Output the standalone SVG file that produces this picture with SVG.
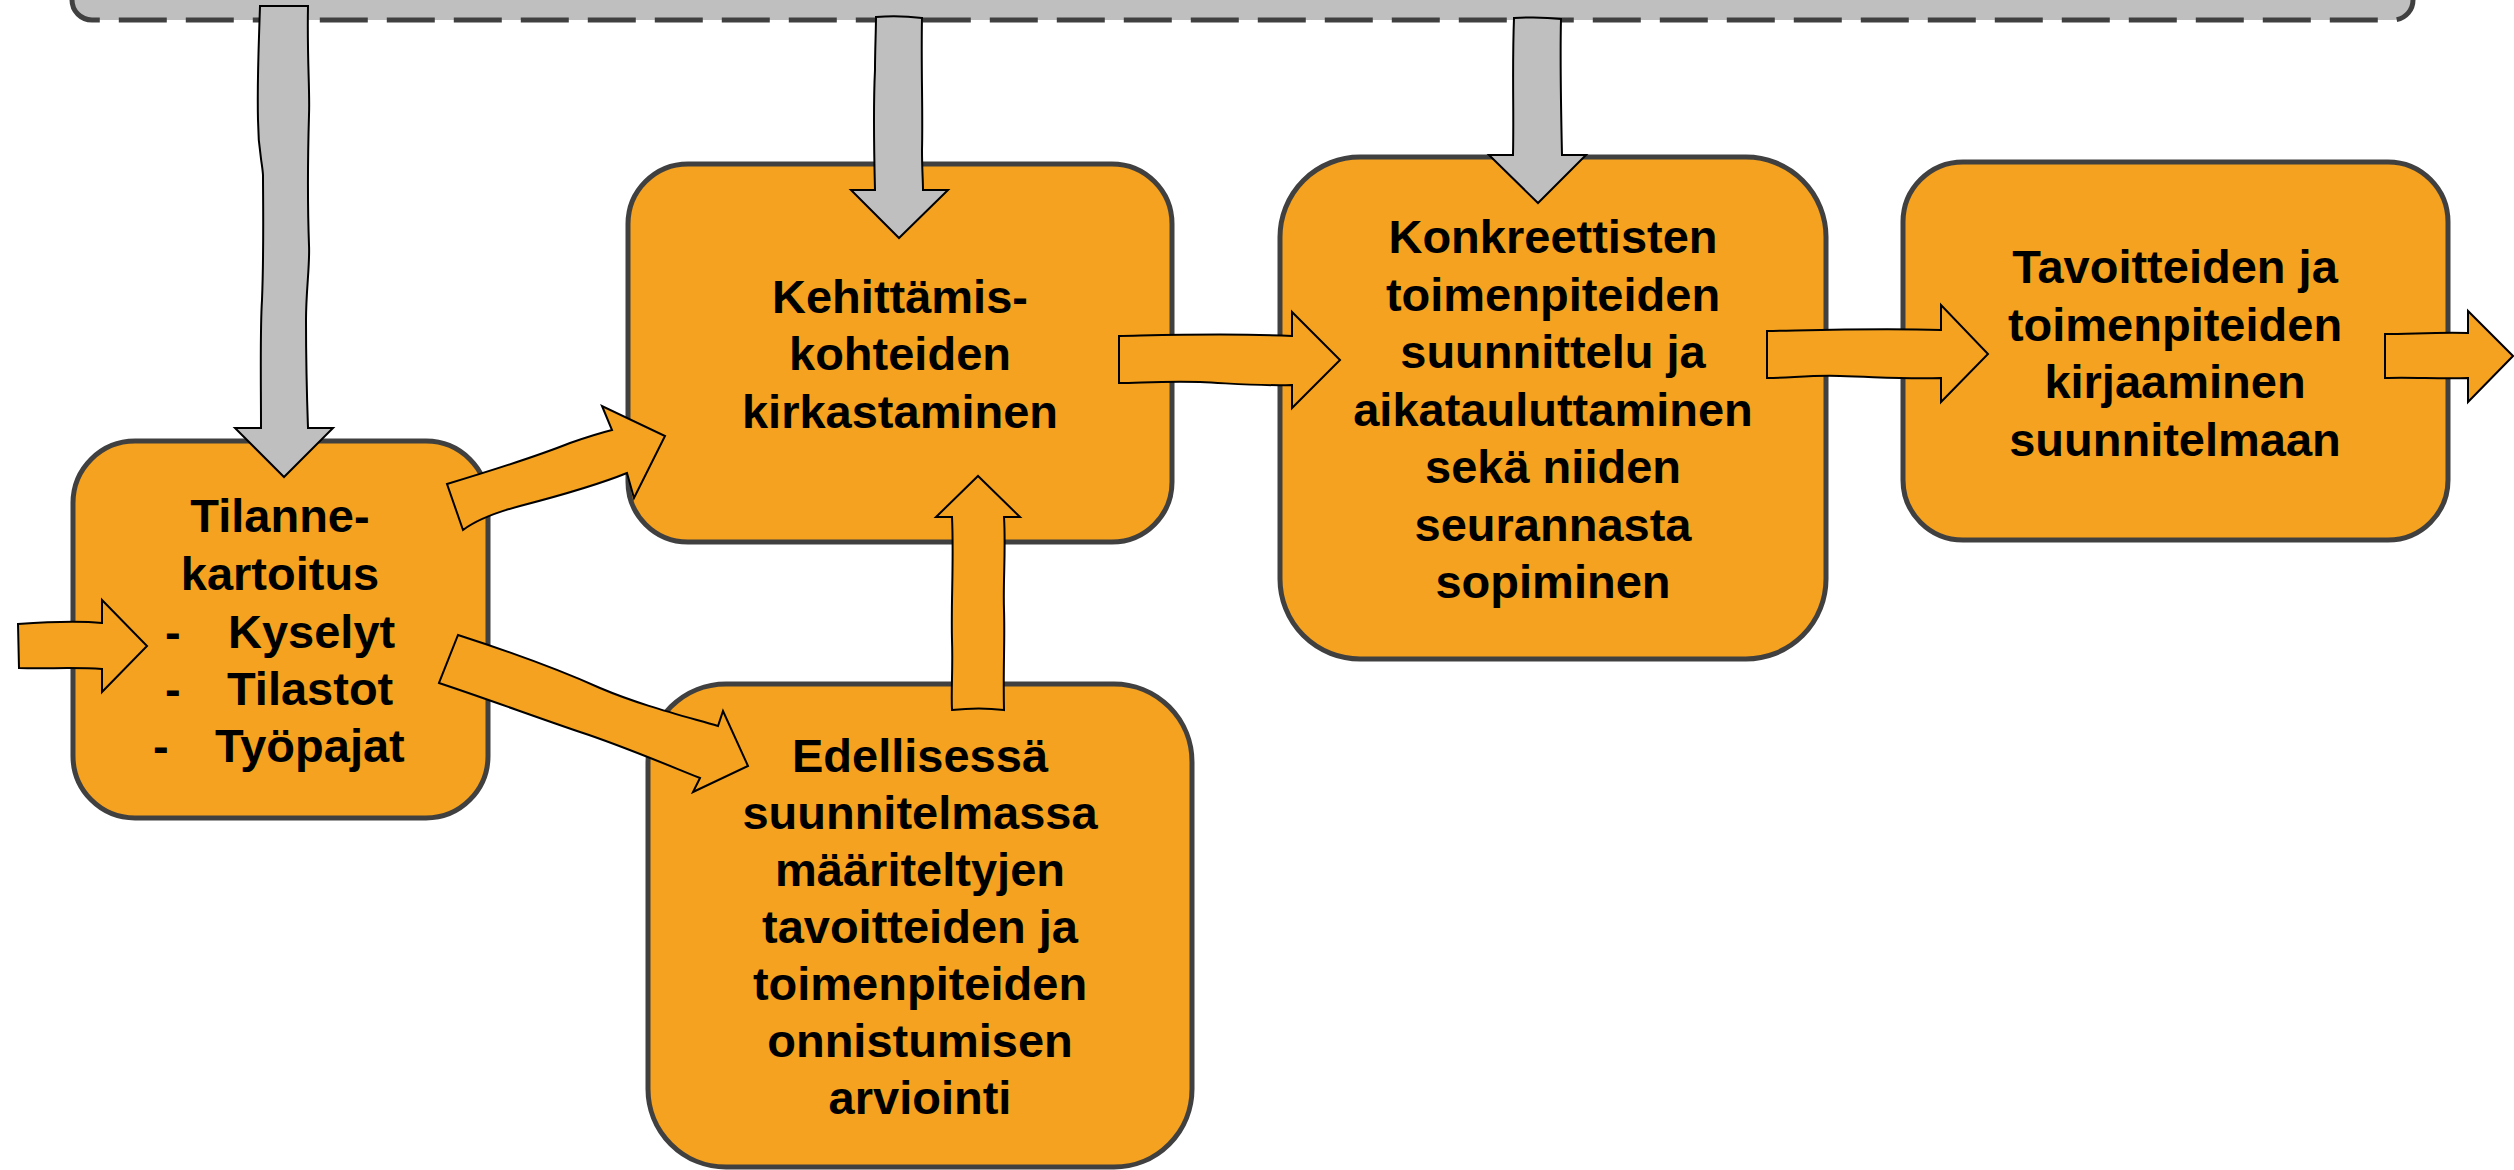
<svg xmlns="http://www.w3.org/2000/svg" width="2514" height="1170" viewBox="0 0 2514 1170">
<style>
.bg{fill:#FFFFFF}
.bar{fill:#BFBFBF;stroke:none}
.barline{fill:none;stroke:#404040;stroke-width:5;stroke-dasharray:48 19;stroke-dashoffset:-1}
.node{fill:#F4A21F;stroke:#404040;stroke-width:5}
.label{font-family:"Liberation Sans",Arial,sans-serif;font-size:47px;font-weight:bold;fill:#000;text-anchor:middle}
.lab-l{font-family:"Liberation Sans",Arial,sans-serif;font-size:47px;font-weight:bold;fill:#000}
.arr-o{fill:#F4A21F;stroke:#000;stroke-width:2;stroke-linejoin:miter}
.arr-g{fill:#BFBFBF;stroke:#000;stroke-width:2;stroke-linejoin:miter}
</style>
<rect class="bg" x="0" y="0" width="2514" height="1170"/>
<g id="top-bar">
<rect class="bar" x="72" y="-100" width="2341" height="120" rx="20"/>
<path class="barline" d="M 72,-10 L 72,0 A 20 20 0 0 0 92,20 L 2393,20 A 20 20 0 0 0 2413,0 L 2413,-10"/>
</g>
<g id="node-tilannekartoitus">
<rect class="node" x="73" y="441" width="415" height="377" rx="62"/>
<text class="label" x="280" y="532">Tilanne-</text>
<text class="label" x="280" y="590">kartoitus</text>
<text class="lab-l" y="648"><tspan x="165">-</tspan><tspan x="228">Kyselyt</tspan></text>
<text class="lab-l" y="705"><tspan x="165">-</tspan><tspan x="227">Tilastot</tspan></text>
<text class="lab-l" y="762"><tspan x="153">-</tspan><tspan x="215">Työpajat</tspan></text>
</g>
<g id="node-kehittamiskohteet">
<rect class="node" x="628" y="164" width="544" height="378" rx="60"/>
<text class="label" x="900" y="313">Kehittämis-</text>
<text class="label" x="900" y="370">kohteiden</text>
<text class="label" x="900" y="428">kirkastaminen</text>
</g>
<g id="node-konkreettiset">
<rect class="node" x="1280" y="157" width="546" height="502" rx="80"/>
<text class="label" x="1553" y="253">Konkreettisten</text>
<text class="label" x="1553" y="311">toimenpiteiden</text>
<text class="label" x="1553" y="368">suunnittelu ja</text>
<text class="label" x="1553" y="426">aikatauluttaminen</text>
<text class="label" x="1553" y="483">sekä niiden</text>
<text class="label" x="1553" y="541">seurannasta</text>
<text class="label" x="1553" y="598">sopiminen</text>
</g>
<g id="node-kirjaaminen">
<rect class="node" x="1903" y="162" width="545" height="378" rx="60"/>
<text class="label" x="2175" y="283">Tavoitteiden ja</text>
<text class="label" x="2175" y="341">toimenpiteiden</text>
<text class="label" x="2175" y="398">kirjaaminen</text>
<text class="label" x="2175" y="456">suunnitelmaan</text>
</g>
<g id="node-arviointi">
<rect class="node" x="648" y="684" width="544" height="483" rx="78"/>
<text class="label" x="920" y="772">Edellisessä</text>
<text class="label" x="920" y="829">suunnitelmassa</text>
<text class="label" x="920" y="886">määriteltyjen</text>
<text class="label" x="920" y="943">tavoitteiden ja</text>
<text class="label" x="920" y="1000">toimenpiteiden</text>
<text class="label" x="920" y="1057">onnistumisen</text>
<text class="label" x="920" y="1114">arviointi</text>
</g>
<g id="connectors">
<path id="g1" class="arr-g" d="M 260,6 L 308,6 C 307,60 310,90 309,115 C 308,150 307,190 309,245 C 310,265 306,290 306,320 C 306,360 307,400 308,428 L 333,428 L 284,477 L 235,428 L 261,428 C 261,380 260,330 262,300 C 264,250 263,200 263,175 C 262,160 258,150 258,120 C 257,80 259,40 260,6 Z"/>
<path id="g2" class="arr-g" d="M 876,17 C 890,16 905,16 922,18 C 921,70 923,110 922,150 C 922,170 923,180 923,190 L 948,190 L 899,238 L 851,190 L 875,190 C 874,150 873,110 875,70 C 875,50 876,30 876,17 Z"/>
<path id="g3" class="arr-g" d="M 1514,18 C 1530,17 1545,17 1561,19 C 1560,60 1561,110 1562,155 L 1586,155 L 1538,203 L 1489,155 L 1513,155 C 1514,110 1512,70 1514,18 Z"/>
<path id="oA" class="arr-o" d="M 18,624 C 45,622 75,620 102,623 L 102,600 L 147,646 L 102,692 L 102,669 C 75,667 45,669 19,668 Z"/>
<path id="oB" class="arr-o" d="M 447,484 C 500,468 540,455 570,443 C 590,436 600,433 612,430 L 602,406 L 665,436 L 634,498 L 627,473 C 600,484 570,493 520,506 C 490,514 475,521 463,530 Z"/>
<path id="oC" class="arr-o" d="M 458,635 C 520,655 560,670 600,688 C 640,705 680,715 718,726 L 723,711 L 748,766 L 693,792 L 700,778 C 660,762 620,745 580,732 C 530,715 490,700 439,683 Z"/>
<path id="oD" class="arr-o" d="M 952,710 C 970,708 988,708 1004,710 C 1003,670 1005,640 1004,610 C 1003,580 1006,550 1004,517 L 1020,517 L 978,476 L 936,517 L 952,517 C 954,560 951,600 952,640 C 953,670 951,690 952,710 Z"/>
<path id="oE" class="arr-o" d="M 1119,336 C 1170,335 1230,333 1292,336 L 1292,312 L 1340,360 L 1292,408 L 1292,385 C 1260,386 1240,384 1200,382 C 1160,381 1140,383 1119,383 Z"/>
<path id="oF" class="arr-o" d="M 1767,331 C 1820,330 1880,328 1941,330 L 1941,305 L 1988,354 L 1941,402 L 1941,378 C 1900,379 1880,377 1840,376 C 1810,375 1790,378 1767,378 Z"/>
<path id="oG" class="arr-o" d="M 2385,334 C 2410,334 2440,332 2468,333 L 2468,311 L 2513,356 L 2468,402 L 2468,378 C 2440,379 2410,377 2385,378 Z"/>
</g>
</svg>
